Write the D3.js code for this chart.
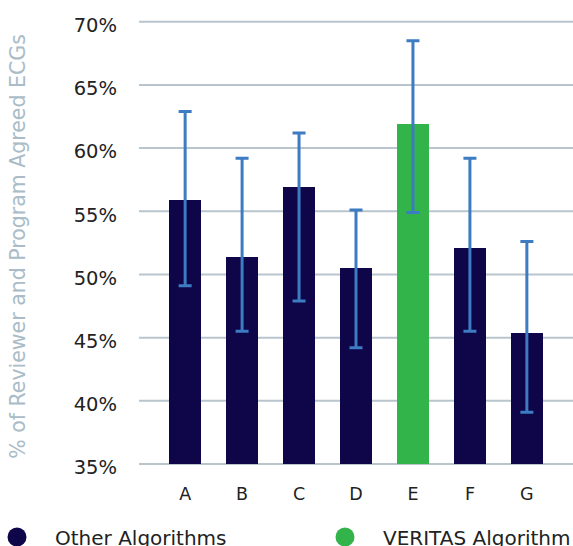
<!DOCTYPE html>
<meta charset='utf-8'>
<head>
    <title>Agreed ECGs</title>
    <script src='https://cdn.jsdelivr.net/npm/d3@7/dist/d3.min.js'></script>
</head>

<style>
    body { margin: 0; background: #fff; }
    text { font-family: 'DejaVu Sans', sans-serif; }
    .grid line { stroke: #b9c5cd; stroke-width: 2px; }
    .tick text { fill: #222; }
    .bar { shape-rendering: crispEdges; }
    .err { stroke: #3d7bc2; stroke-width: 3px; fill: none; }
</style>

<svg></svg>

<script>
    // data
    var categories = ['A', 'B', 'C', 'D', 'E', 'F', 'G'];
    var values = [55.9, 51.4, 56.9, 50.5, 61.9, 52.1, 45.4];
    var upper = [62.9, 59.2, 61.2, 55.1, 68.5, 59.2, 52.6];
    var lower = [49.1, 45.5, 47.9, 44.2, 54.9, 45.5, 39.1];
    var groups = ['Other', 'Other', 'Other', 'Other', 'VERITAS', 'Other', 'Other'];
    var yTicks = [35, 40, 45, 50, 55, 60, 65, 70];
    var legendLabels = ['Other Algorithms', 'VERITAS Algorithm'];

    var colors = { 'Other': '#0f0549', 'VERITAS': '#33b44a' };

    var vWidth = 573, vHeight = 546;
    var svg = d3.select('svg').attr('width', vWidth).attr('height', vHeight);

    var x = d3.scaleBand().domain(categories).range([139, 573])
        .paddingInner(0.44).paddingOuter(0.53);
    var y = d3.scaleLinear().domain([35, 70]).range([464, 21.7]);

    // gridlines
    svg.append('g').attr('class', 'grid').selectAll('line').data(yTicks).enter().append('line')
        .attr('x1', 139).attr('x2', 573)
        .attr('y1', function (d) { return y(d); })
        .attr('y2', function (d) { return y(d); });

    // y axis labels
    var yAxis = d3.axisLeft(y).tickValues(yTicks).tickSize(0).tickPadding(0)
        .tickFormat(function (d) { return d + '%'; });
    svg.append('g').attr('transform', 'translate(117,0)').call(yAxis)
        .call(function (g) { g.select('.domain').remove(); })
        .selectAll('text').attr('dy', '0.5em')
        .attr('font-family', 'DejaVu Sans, sans-serif').attr('font-size', 19.5);

    // x axis labels
    var xAxis = d3.axisBottom(x).tickSize(0).tickPadding(0);
    svg.append('g').attr('transform', 'translate(0,500)').call(xAxis)
        .call(function (g) { g.select('.domain').remove(); })
        .selectAll('text').attr('y', 0).attr('dy', 0)
        .attr('font-family', 'DejaVu Sans, sans-serif').attr('font-size', 17.5);

    // bars
    svg.append('g').selectAll('rect').data(categories).enter().append('rect')
        .attr('class', 'bar')
        .attr('x', function (d) { return x(d); })
        .attr('width', x.bandwidth())
        .attr('y', function (d, i) { return y(values[i]); })
        .attr('height', function (d, i) { return y(35) - y(values[i]); })
        .attr('fill', function (d, i) { return colors[groups[i]]; });

    // error bars
    var capW = 6.5;
    svg.append('g').selectAll('path').data(categories).enter().append('path')
        .attr('class', 'err')
        .attr('d', function (d, i) {
            var cx = x(d) + x.bandwidth() / 2;
            var yu = y(upper[i]), yl = y(lower[i]);
            return 'M' + (cx - capW) + ',' + yu + 'H' + (cx + capW) +
                'M' + cx + ',' + yu + 'V' + yl +
                'M' + (cx - capW) + ',' + yl + 'H' + (cx + capW);
        });

    // y title
    svg.append('text')
        .attr('transform', 'translate(25,246.5) rotate(-90)')
        .attr('text-anchor', 'middle')
        .attr('font-size', 20.5)
        .attr('fill', '#a9bcc7')
        .text('% of Reviewer and Program Agreed ECGs');

    // legend
    var legendX = [17, 345];
    var legend = svg.append('g').selectAll('g').data(legendLabels).enter().append('g')
        .attr('transform', function (d, i) { return 'translate(' + legendX[i] + ',537)'; });
    legend.append('circle').attr('r', 9.5)
        .attr('fill', function (d, i) { return i === 0 ? colors.Other : colors.VERITAS; });
    legend.append('text').attr('x', 38).attr('y', 8)
        .attr('font-size', 20)
        .attr('fill', '#222')
        .text(function (d) { return d; });
</script>
